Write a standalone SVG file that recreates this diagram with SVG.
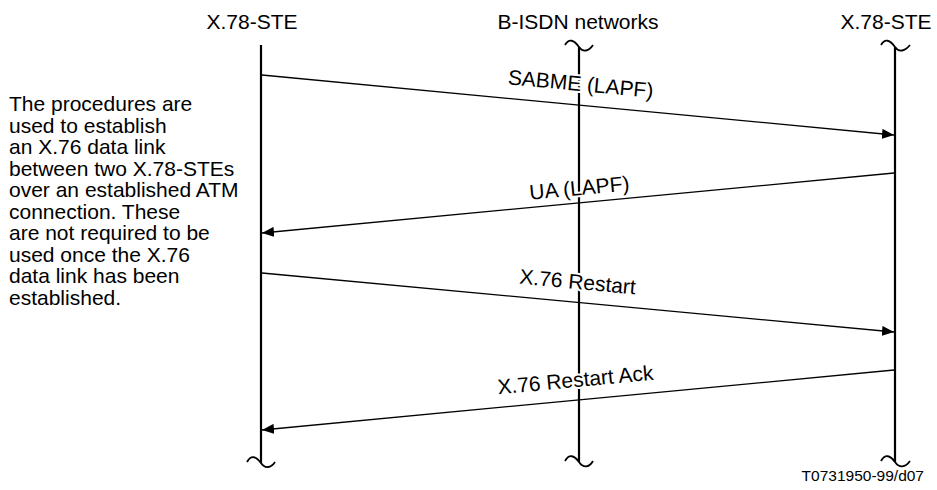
<svg xmlns="http://www.w3.org/2000/svg" width="937" height="490" viewBox="0 0 937 490">
<style>
text{font-family:"Liberation Sans",Arial,sans-serif;fill:#000}
.hdr{font-size:21px;text-anchor:middle}
.lbl{font-size:21px;text-anchor:middle;stroke:#fff;stroke-width:4;paint-order:stroke;stroke-linejoin:round}
.note{font-size:21px}
.foot{font-size:15.5px;text-anchor:end}
.life{stroke:#000;stroke-width:2.2;fill:none}
.tilde{stroke:#000;stroke-width:1.8;fill:none}
.msg{stroke:#000;stroke-width:1.3;fill:none;marker-end:url(#ah)}
</style>
<defs>
<marker id="ah" markerUnits="userSpaceOnUse" markerWidth="13" markerHeight="10" refX="12" refY="5" orient="auto">
<path d="M0,0 L12,5 L0,10 z" fill="#000"/>
</marker>
</defs>
<rect width="937" height="490" fill="#fff"/>
<g id="ste-left">
<text class="hdr" x="252" y="29">X.78-STE</text>
<line class="life" x1="261" y1="45" x2="261" y2="463"/>
<path class="tilde" d="M247,462 C251,455 256,456 261,463 C265,469 271,468 275,462"/>
</g>
<g id="bisdn">
<text class="hdr" x="578" y="29">B-ISDN networks</text>
<path class="tilde" d="M565,45 C569,38 574,40 579,47 C583,53 589,51 593,45"/>
<line class="life" x1="579" y1="47" x2="579" y2="462"/>
<path class="tilde" d="M565,461 C569,454 574,455 579,462 C583,468 589,468 593,461"/>
</g>
<g id="ste-right">
<text class="hdr" x="886" y="29">X.78-STE</text>
<path class="tilde" d="M881,45 C885,38 890,40 895,47 C899,53 905,51 910,45"/>
<line class="life" x1="895" y1="47" x2="895" y2="462"/>
<path class="tilde" d="M881,461 C885,454 890,455 895,462 C899,468 905,468 910,461"/>
</g>
<g id="note">
<text class="note" x="9" y="111"><tspan x="9">The procedures are</tspan><tspan x="9" dy="21.5">used to establish</tspan><tspan x="9" dy="21.5">an X.76 data link</tspan><tspan x="9" dy="21.5">between two X.78-STEs</tspan><tspan x="9" dy="21.5">over an established ATM</tspan><tspan x="9" dy="21.5">connection. These</tspan><tspan x="9" dy="21.5">are not required to be</tspan><tspan x="9" dy="21.5">used once the X.76</tspan><tspan x="9" dy="21.5">data link has been</tspan><tspan x="9" dy="21.5">established.</tspan></text>
</g>
<g id="connectors">
<line class="msg" x1="262" y1="75" x2="894" y2="135"/>
<line class="msg" x1="894" y1="173" x2="262" y2="233"/>
<line class="msg" x1="262" y1="273" x2="894" y2="332"/>
<line class="msg" x1="894" y1="370" x2="262" y2="430"/>
</g>
<g id="labels">
<text class="lbl" transform="translate(580,91) rotate(5.4)">SABME (LAPF)</text>
<text class="lbl" transform="translate(580,195) rotate(-5.4)">UA (LAPF)</text>
<text class="lbl" transform="translate(577,289) rotate(5.3)">X.76 Restart</text>
<text class="lbl" transform="translate(576,387) rotate(-5.4)">X.76 Restart Ack</text>
</g>
<text class="foot" x="924" y="481">T0731950-99/d07</text>
</svg>
